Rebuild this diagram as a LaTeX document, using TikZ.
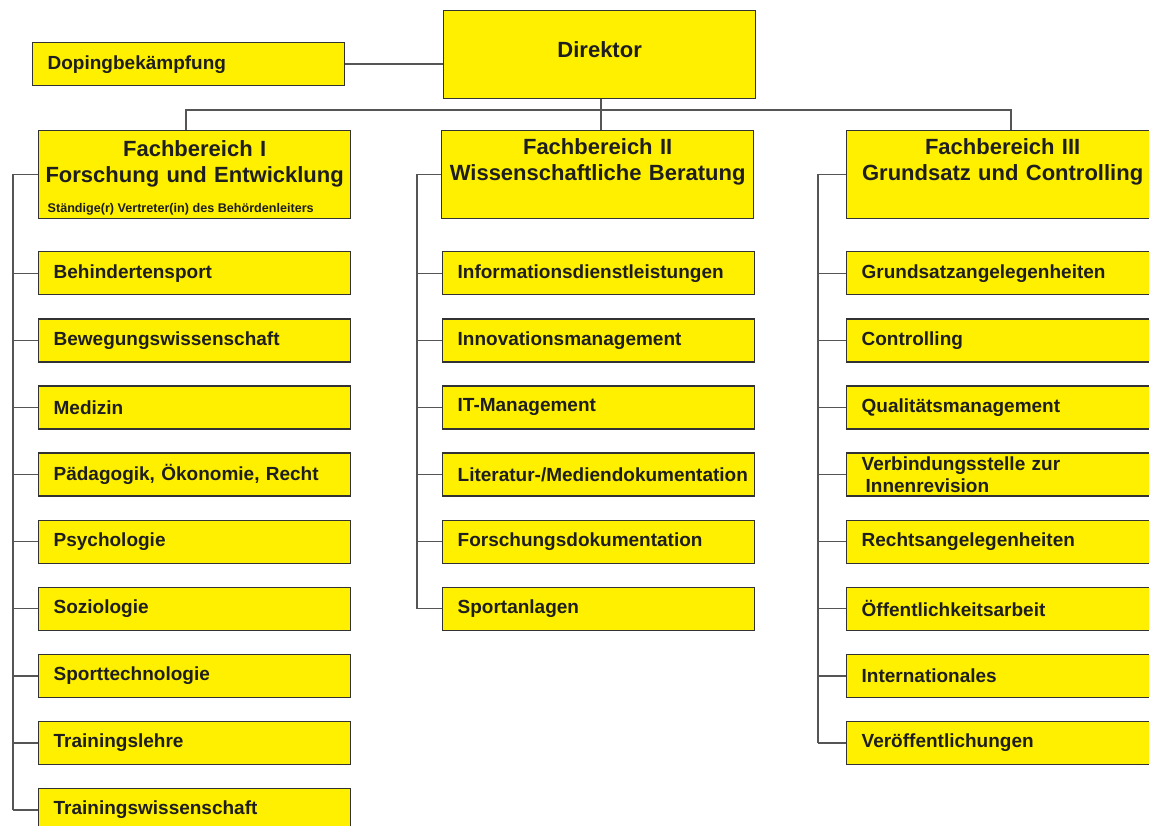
\documentclass[tikz,border=0pt]{standalone}
\usepackage{fontspec}
\setmainfont{Liberation Sans}
\usetikzlibrary{positioning}
\definecolor{amtgelb}{RGB}{255,240,0}
\definecolor{rahmen}{RGB}{50,50,50}
\definecolor{linie}{RGB}{85,85,85}
\definecolor{schrift}{RGB}{30,30,30}

\begin{document}
\begin{tikzpicture}[x=1pt, y=-1pt,
    box/.style={draw=rahmen, fill=amtgelb, line width=1.3pt, text=schrift,
        font=\bfseries\fontsize{19}{22}\selectfont,
        execute at begin node={\exhyphenpenalty=10000 \hyphenpenalty=10000 },
        anchor=north west, minimum width=312pt, minimum height=43pt,
        inner xsep=15pt, inner ysep=2pt, text width=282pt, align=left},
    head/.style={box, minimum height=88pt, inner xsep=6pt, text width=300pt,
        align=center, font=\bfseries\fontsize{22}{26}\selectfont},
    link/.style={draw=linie, line width=1.4pt}]
    \clip (0,0) rectangle (1149,825);

    % Leitung
    \node[head, text depth=10pt] (dir) at (443,10) {Direktor};
    \node[box] (doping) at (32,42) {Dopingbekämpfung};
    \draw[link] (doping.east) -- (dir.west |- doping.east);

    % Fachbereiche
    \node[head] (fb1) at (38,130) {\rule{0pt}{22pt}Fachbereich I\\Forschung und Entwicklung\\[4pt]%
        \makebox[300pt][l]{\hspace*{3pt}\fontsize{12.6}{14}\selectfont\spaceskip=0pt
        Ständige(r) Vertreter(in) des Behördenleiters}};
    \node[head] (fb2) at (441,130) {Fachbereich II\\Wissenschaftliche Beratung\\[4pt]\mbox{}};
    \node[head] (fb3) at (846,130) {Fachbereich III\\Grundsatz und Controlling\\[4pt]\mbox{}};

    \coordinate (hub) at (601,110);
    \coordinate (busL) at (186,110);
    \coordinate (busR) at (1011,110);
    \draw[link] (dir.south -| hub) -- (fb2.north -| hub);
    \draw[link] (fb1.north -| busL) -- (busL) -- (busR) -- (fb3.north -| busR);

    % Fachbereich I
    \coordinate (spineI) at (13,0);
    \foreach \name [count=\i] in {Behindertensport, Bewegungswissenschaft, Medizin,
        {Pädagogik, Ökonomie, Recht}, Psychologie, Soziologie, Sporttechnologie,
        Trainingslehre, Trainingswissenschaft} {
        \node[box] (fbI-\i) at (38, 184+67.1*\i) {\name};
        \draw[link] (fbI-\i.west) -- (fbI-\i.west -| spineI);
    }
    \draw[link] (fb1.west) -- (fb1.west -| spineI) -- (fbI-9.west -| spineI);

    % Fachbereich II
    \coordinate (spineII) at (417,0);
    \foreach \name [count=\i] in {Informationsdienstleistungen, Innovationsmanagement,
        IT-Management, Literatur-/Mediendokumentation, Forschungsdokumentation,
        Sportanlagen} {
        \node[box] (fbII-\i) at (442, 184+67.1*\i) {\name};
        \draw[link] (fbII-\i.west) -- (fbII-\i.west -| spineII);
    }
    \draw[link] (fb2.west) -- (fb2.west -| spineII) -- (fbII-6.west -| spineII);

    % Fachbereich III
    \coordinate (spineIII) at (818,0);
    \foreach \name [count=\i] in {Grundsatzangelegenheiten, Controlling,
        Qualitätsmanagement, {Verbindungsstelle zur\\\hspace*{4pt}Innenrevision},
        Rechtsangelegenheiten, Öffentlichkeitsarbeit, Internationales,
        Veröffentlichungen} {
        \node[box] (fbIII-\i) at (846, 184+67.1*\i) {\name};
        \draw[link] (fbIII-\i.west) -- (fbIII-\i.west -| spineIII);
    }
    \draw[link] (fb3.west) -- (fb3.west -| spineIII) -- (fbIII-8.west -| spineIII);
\end{tikzpicture}
\end{document}
